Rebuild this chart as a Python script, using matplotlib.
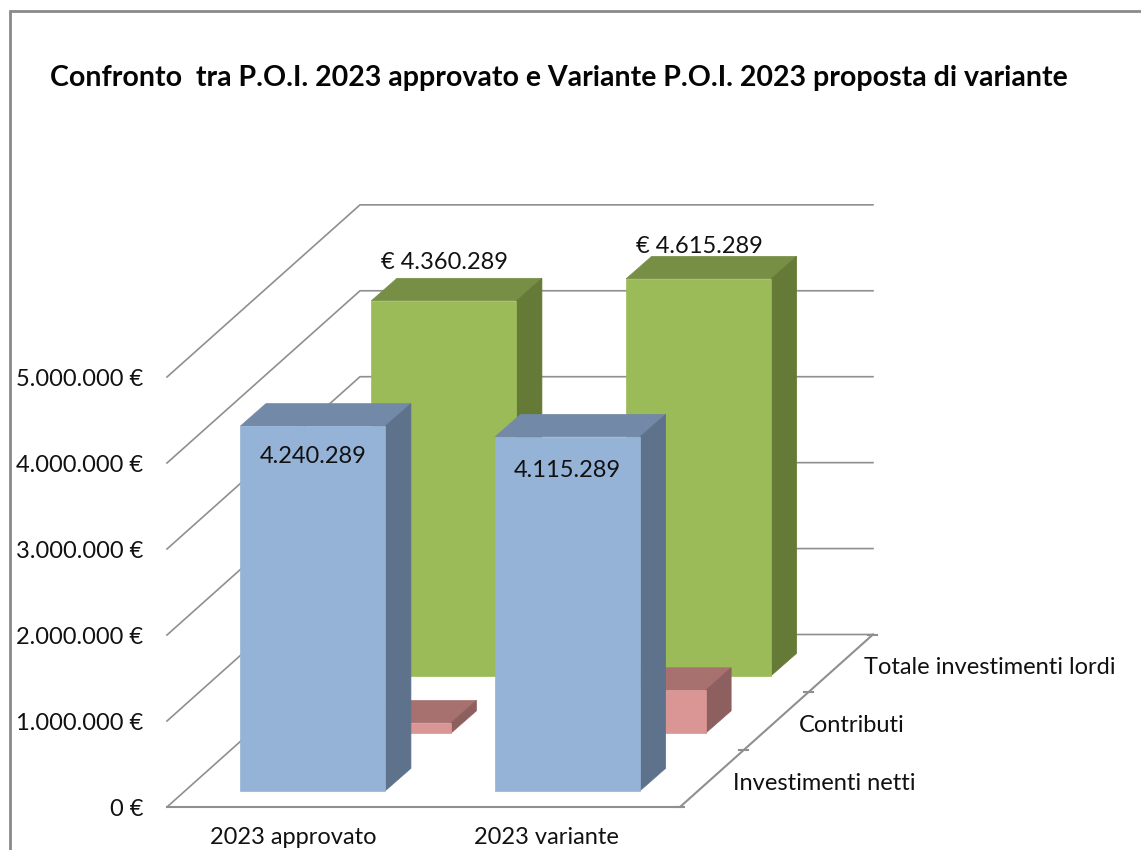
from matplotlib import pyplot as plt
from matplotlib.patches import Polygon

categorie = ['2023 approvato', '2023 variante']
serie = ['Investimenti netti', 'Contributi', 'Totale investimenti lordi']
investimenti_netti = [4240289, 4115289]
contributi = [120000, 500000]
totale_lordi = [4360289, 4615289]
valori_assi = [0, 1000000, 2000000, 3000000, 4000000, 5000000]
titolo = 'Confronto  tra P.O.I. 2023 approvato e Variante P.O.I. 2023 proposta di variante'

plt.rcParams['font.family'] = ['Lato', 'DejaVu Sans']

fig = plt.figure(figsize=(11.41, 8.5), dpi=100)
ax = fig.add_axes([0, 0, 1, 1])
ax.set_xlim(0, 1141)
ax.set_ylim(850, 0)
ax.axis('off')

# proiezione obliqua: categoria, profondita, valore -> pixel
X0, Y0 = 167, 807
PASSO_CAT = 254.7
FINE_CAT = 2.014
DX, DY = 65.5, -57.5
SCALA = 86 / 1e6
RIENTRO = 3.5  # le pareti in fondo stanno un po' piu a sinistra delle barre
TESTO = '#111111'
GRIGIO = '#8f8f8f'


def proj(c, p, v):
    return (X0 + PASSO_CAT * c + DX * p, Y0 + DY * p - SCALA * v)


for v in valori_assi:
    a, b, c = proj(0, 0, v), proj(0, 3, v), proj(FINE_CAT, 3, v)
    ax.plot([a[0], b[0] - RIENTRO, c[0] - RIENTRO], [a[1], b[1] + 0.07 * v / 1e6, c[1] + 0.07 * v / 1e6],
            color=GRIGIO, lw=1.2, solid_joinstyle='miter', zorder=1)
    ax.text(143, a[1] + 2.5, f'{v:,.0f} €'.replace(',', '.'), ha='right', va='center', fontsize=17, color=TESTO)

# pavimento
fr = [proj(0, 0, 0), proj(FINE_CAT, 0, 0), proj(FINE_CAT, 3, 0)]
ax.plot([fr[0][0], fr[1][0], fr[2][0] - RIENTRO], [q[1] for q in fr], color=GRIGIO, lw=1.5,
        solid_joinstyle='miter', zorder=2)
for p in range(4):
    q = proj(FINE_CAT, p, 0)
    ax.plot([q[0] - 5 - RIENTRO * p / 3, q[0] + 4 - RIENTRO * p / 3], [q[1], q[1]], color=GRIGIO, lw=1.5, zorder=2)


def barra(c, p, v, fronte, sopra, lato, z):
    lato_x = 0.283
    larg = 145 / PASSO_CAT
    inizio = (1 - larg) / 2
    xa, xb = c + inizio, c + inizio + larg
    pa, pb = p + lato_x, p + lato_x + 0.39
    ax.add_patch(Polygon([proj(xa, pa, v), proj(xb, pa, v), proj(xb, pb, v), proj(xa, pb, v)],
                         fc=sopra, ec=sopra, lw=0.5, zorder=z))
    ax.add_patch(Polygon([proj(xb, pa, 0), proj(xb, pb, 0), proj(xb, pb, v), proj(xb, pa, v)],
                         fc=lato, ec=lato, lw=0.5, zorder=z))
    ax.add_patch(Polygon([proj(xa, pa, 0), proj(xb, pa, 0), proj(xb, pa, v), proj(xa, pa, v)],
                         fc=fronte, ec=fronte, lw=0.5, zorder=z))


for c in range(2):
    barra(c, 2, totale_lordi[c], '#9BBB59', '#768F45', '#667A38', 3)
    barra(c, 1, contributi[c], '#D99694', '#A6716F', '#8D5F5E', 4)
    barra(c, 0, investimenti_netti[c], '#95B3D7', '#7389A8', '#5F728C', 5)

# etichette dati
for c in range(2):
    xt, yt = proj(c + 0.5, 2.283, totale_lordi[c])
    ax.text(xt + 1, yt - 38 + 6 * c, '€ ' + f'{totale_lordi[c]:,.0f}'.replace(',', '.'), ha='center', va='center',
            fontsize=17, color=TESTO, zorder=6)
    xt, yt = proj(c + 0.5, 0.283, investimenti_netti[c])
    ax.text(xt, yt + 30 + 4 * c, f'{investimenti_netti[c]:,.0f}'.replace(',', '.'), ha='center', va='center',
            fontsize=17, color=TESTO, zorder=6)
    xt, yt = proj(c + 0.5, 0, 0)
    ax.text(xt - 1 - 2 * c, yt + 31, categorie[c], ha='center', va='center', fontsize=17, color=TESTO)

# etichette serie
for p, nome in enumerate(serie):
    q = proj(FINE_CAT, p, 0)
    ax.text(q[0] + 53, q[1] - 24, nome, ha='left', va='center', fontsize=17, color=TESTO)

ax.text(50, 78, titolo, ha='left', va='center', fontsize=20.5, fontweight='bold', color='#050505')

# cornice
ax.plot([9.5, 9.5, 1141], [850, 10.5, 10.5], color='#8a8a8a', lw=2, solid_joinstyle='miter')

fig.savefig('out.png', dpi=100)
